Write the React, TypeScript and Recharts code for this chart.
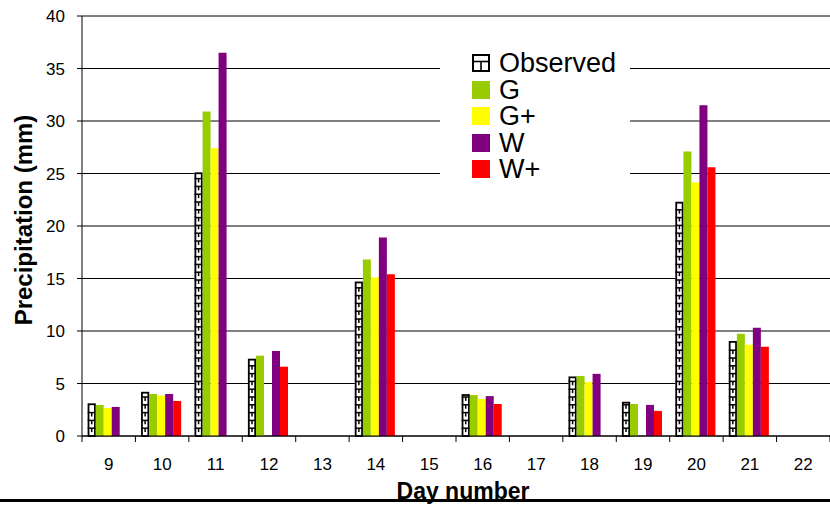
import React from 'react';
import { BarChart, Bar, XAxis, YAxis, CartesianGrid, Legend } from 'recharts';

const days = ['9', '10', '11', '12', '13', '14', '15', '16', '17', '18', '19', '20', '21', '22'];
const observed = [3.1, 4.2, 25.1, 7.35, null, 14.7, null, 3.98, null, 5.66, 3.25, 22.3, 9.04, null];
const gSeries = [2.95, 4.0, 30.9, 7.65, null, 16.8, null, 3.9, null, 5.72, 3.05, 27.1, 9.74, null];
const gPlus = [2.67, 3.85, 27.4, null, null, 15.1, null, 3.53, null, 5.15, null, 24.15, 8.69, null];
const wSeries = [2.77, 4.0, 36.5, 8.1, null, 18.9, null, 3.8, null, 5.92, 2.96, 31.5, 10.3, null];
const wPlus = [null, 3.34, null, 6.6, null, 15.4, null, 3.05, null, null, 2.39, 25.6, 8.5, null];
const yTicks = [0, 5, 10, 15, 20, 25, 30, 35, 40];

const seriesList = [
  { key: 'Observed', values: observed, color: '#FFFFFF' },
  { key: 'G', values: gSeries, color: '#99CC00' },
  { key: 'G+', values: gPlus, color: '#FFFF00' },
  { key: 'W', values: wSeries, color: '#800080' },
  { key: 'W+', values: wPlus, color: '#FF0000' },
];

const data = days.map((d, i) => {
  const row: any = { day: d };
  seriesList.forEach((s) => {
    row[s.key] = s.values[i];
  });
  return row;
});

const FONT = '"Liberation Sans", Arial, sans-serif';

const ObservedShape = (props: any) => {
  const { x, y, width, height } = props;
  if (height == null || height <= 0 || width == null) return null;
  const step = 7.8;
  const bottom = y + height;
  const cx = x + width / 2;
  const els: any[] = [];
  let k = 0;
  for (let yy = bottom - step; yy > y + 1.5; yy -= step) {
    els.push(<line key={'h' + k} x1={x} x2={x + width} y1={yy} y2={yy} stroke="#000" strokeWidth={1.5} />);
    els.push(<line key={'v' + k} x1={cx} x2={cx} y1={yy} y2={Math.min(yy + step / 2, bottom)} stroke="#000" strokeWidth={1.5} />);
    k++;
  }
  return (
    <g>
      <rect x={x} y={y} width={width} height={height} fill="#fff" stroke="none" />
      {els}
      <rect x={x + 0.8} y={y + 0.8} width={Math.max(width - 1.6, 0)} height={Math.max(height - 0.8, 0)} fill="none" stroke="#000" strokeWidth={1.8} />
    </g>
  );
};

const XTick = (props: any) => {
  const { x, y, payload, index } = props;
  const half = payload && payload.offset ? payload.offset : 26.7;
  return (
    <g>
      <line x1={x - half} x2={x - half} y1={y} y2={y + 6} stroke="#000" strokeWidth={1} />
      {index === days.length - 1 ? (
        <line x1={x + half} x2={x + half} y1={y} y2={y + 6} stroke="#000" strokeWidth={1} />
      ) : null}
      <text x={x} y={y + 34} textAnchor="middle" fontSize={17} fontFamily={FONT} fill="#000">
        {payload.value}
      </text>
    </g>
  );
};

const YLabel = (props: any) => {
  const vb = props.viewBox || { x: 0, y: 16, width: 82, height: 420 };
  const tx = vb.x + 32;
  const ty = vb.y + vb.height / 2 - 6;
  return (
    <text
      x={tx}
      y={ty}
      transform={`rotate(-90, ${tx}, ${ty})`}
      textAnchor="middle"
      fontSize={24}
      fontWeight="bold"
      fontFamily={FONT}
      fill="#000"
    >
      Precipitation (mm)
    </text>
  );
};

const XLabel = (props: any) => {
  const vb = props.viewBox || { x: 82, y: 436, width: 748, height: 70 };
  return (
    <text
      x={vb.x + vb.width / 2 + 7}
      y={vb.y + 63}
      textAnchor="middle"
      fontSize={23}
      fontWeight="bold"
      fontFamily={FONT}
      fill="#000"
    >
      Day number
    </text>
  );
};

const ObservedIcon = () => (
  <svg width={18} height={18} style={{ display: 'block' }}>
    <rect x={1} y={1} width={16} height={16} fill="#fff" stroke="#000" strokeWidth={2} />
    <line x1={1} x2={17} y1={7.5} y2={7.5} stroke="#000" strokeWidth={1.6} />
    <line x1={9} x2={9} y1={7.5} y2={17} stroke="#000" strokeWidth={1.6} />
  </svg>
);

const renderLegend = () => (
  <div style={{ background: '#fff', width: 190, height: 146, paddingTop: 5, boxSizing: 'border-box' }}>
    {seriesList.map((s) => (
      <div key={s.key} style={{ display: 'flex', alignItems: 'center', height: 26.5, paddingLeft: 32 }}>
        {s.key === 'Observed' ? (
          <ObservedIcon />
        ) : (
          <div style={{ width: 18, height: 18, background: s.color }} />
        )}
        <span style={{ marginLeft: 9, fontSize: 27, fontFamily: FONT, color: '#000', lineHeight: '26px' }}>{s.key}</span>
      </div>
    ))}
  </div>
);

export default function App() {
  return (
    <div style={{ position: 'relative', width: 830, height: 506, background: '#fff' }}>
      <style>{'body{margin:0;background:#fff;}'}</style>
      <BarChart
        width={830}
        height={506}
        data={data}
        margin={{ top: 16, right: 0, left: 0, bottom: 0 }}
        barCategoryGap="10.7%"
        barGap={0}
      >
        <CartesianGrid vertical={false} stroke="#000" strokeWidth={1} />
        <XAxis
          dataKey="day"
          height={70}
          tickSize={0}
          tickMargin={0}
          tickLine={false}
          axisLine={{ stroke: '#000', strokeWidth: 1 }}
          tick={<XTick />}
          interval={0}
          label={{ content: XLabel }}
        />
        <YAxis
          width={82}
          domain={[0, 40]}
          ticks={yTicks}
          interval={0}
          tickSize={5}
          tickMargin={12}
          axisLine={{ stroke: '#000', strokeWidth: 1 }}
          tickLine={{ stroke: '#000', strokeWidth: 1 }}
          tick={{ fill: '#000', fontSize: 17, fontFamily: FONT }}
          label={{ content: YLabel }}
        />
        <Legend
          layout="vertical"
          align="center"
          verticalAlign="middle"
          content={renderLegend}
          wrapperStyle={{ position: 'absolute', left: 440, top: 45, width: 190, height: 146 }}
        />
        {seriesList.map((s) =>
          s.key === 'Observed' ? (
            <Bar key={s.key} dataKey={s.key} fill="#fff" shape={<ObservedShape />} isAnimationActive={false} />
          ) : (
            <Bar key={s.key} dataKey={s.key} fill={s.color} isAnimationActive={false} />
          )
        )}
      </BarChart>
      <div style={{ position: 'absolute', left: 0, top: 499, width: 830, height: 3, background: '#000' }} />
    </div>
  );
}
